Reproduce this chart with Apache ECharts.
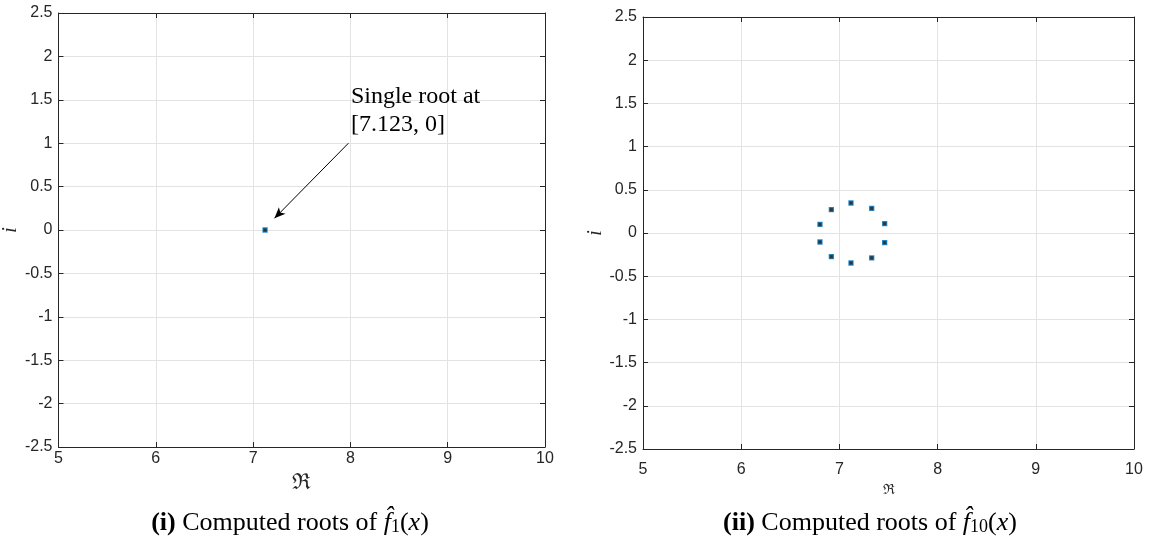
<!DOCTYPE html>
<html>
<head>
<meta charset="utf-8">
<script src="https://cdn.jsdelivr.net/npm/echarts@6/dist/echarts.min.js"></script>
<style>
  html, body { margin: 0; padding: 0; background: #fff; }
  #chart { width: 1156px; height: 537px; }
</style>
</head>
<body>
<div id="chart"></div>
<script>
// axis ranges / ticks
const xRange = [5, 10];
const yRange = [-2.5, 2.5];
const xStep = 1;
const yStep = 0.5;

// (i) roots of f1
const rootsRe1 = [7.123];
const rootsIm1 = [0];

// (ii) roots of f10
const rootsRe10 = [6.802, 6.918, 7.118, 7.329, 7.461, 7.461, 7.329, 7.118, 6.918, 6.802];
const rootsIm10 = [0.100, 0.270, 0.347, 0.285, 0.108, -0.112, -0.289, -0.347, -0.274, -0.104];

// annotation on panel (i)
const arrowFrom = [7.98, 1.0];
const arrowTo = [7.22, 0.135];
const notePos = [8, 1.373];
const noteText = 'Single root at\n[7.123, 0]';

const axisColor = '#262626';
const gridColor = '#e3e3e3';

function pairs(xs, ys) {
  return xs.map((x, i) => [x, ys[i]]);
}

function mainX(g, margin, nameSize, nameGap) {
  return {
    gridIndex: g, type: 'value', min: xRange[0], max: xRange[1], interval: xStep,
    position: 'bottom',
    name: 'ℜ', nameLocation: 'middle', nameGap: nameGap,
    nameTextStyle: { fontFamily: 'DejaVu Serif', fontSize: nameSize, color: axisColor },
    axisLine: { show: true, onZero: false, lineStyle: { color: axisColor, width: 1 } },
    axisTick: { show: true, inside: true, length: 5, lineStyle: { color: axisColor } },
    axisLabel: { color: axisColor, fontFamily: 'Liberation Sans', fontSize: 16, margin: margin },
    splitLine: { show: true, lineStyle: { color: gridColor, width: 1 } }
  };
}
function mainY(g, nameGap) {
  return {
    gridIndex: g, type: 'value', min: yRange[0], max: yRange[1], interval: yStep,
    position: 'left',
    name: 'i', nameLocation: 'middle', nameGap: nameGap, nameRotate: 90,
    nameTextStyle: { fontFamily: 'Liberation Serif', fontStyle: 'italic', fontSize: 20, color: axisColor },
    axisLine: { show: true, onZero: false, lineStyle: { color: axisColor, width: 1 } },
    axisTick: { show: true, inside: true, length: 5, lineStyle: { color: axisColor } },
    axisLabel: { color: axisColor, fontFamily: 'Liberation Sans', fontSize: 16, margin: 6 },
    splitLine: { show: true, lineStyle: { color: gridColor, width: 1 } }
  };
}
// box edges with inward ticks (top / right)
function boxX(g) {
  return {
    gridIndex: g, type: 'value', min: xRange[0], max: xRange[1], interval: xStep,
    position: 'top',
    axisLine: { show: true, onZero: false, lineStyle: { color: axisColor, width: 1 } },
    axisTick: { show: true, inside: true, length: 5, lineStyle: { color: axisColor } },
    axisLabel: { show: false }, splitLine: { show: false }
  };
}
function boxY(g) {
  return {
    gridIndex: g, type: 'value', min: yRange[0], max: yRange[1], interval: yStep,
    position: 'right',
    axisLine: { show: true, onZero: false, lineStyle: { color: axisColor, width: 1 } },
    axisTick: { show: true, inside: true, length: 5, lineStyle: { color: axisColor } },
    axisLabel: { show: false }, splitLine: { show: false }
  };
}

const markerStyle = { color: '#000000', borderColor: '#0072BD', borderWidth: 1.3 };

const captionRich = {
  b: { fontFamily: 'Liberation Serif', fontWeight: 'bold', fontSize: 26, color: '#000', lineHeight: 30, verticalAlign: 'bottom' },
  n: { fontFamily: 'Liberation Serif', fontSize: 26, color: '#000', lineHeight: 30, verticalAlign: 'bottom' },
  it: { fontFamily: 'Liberation Serif', fontStyle: 'italic', fontSize: 26, color: '#000', lineHeight: 30, verticalAlign: 'bottom' },
  sub: { fontFamily: 'Liberation Serif', fontSize: 18, color: '#000', lineHeight: 12, verticalAlign: 'bottom' }
};

const chart = echarts.init(document.getElementById('chart'));
const option = {
  animation: false,
  backgroundColor: '#fff',
  grid: [
    { left: 53, top: 13, width: 492, height: 434 },
    { left: 643, top: 17, width: 491, height: 432 }
  ],
  xAxis: [mainX(0, 4, 22, 25), boxX(0), mainX(1, 13, 14, 18), boxX(1)],
  yAxis: [mainY(0, 34), boxY(0), mainY(1, 33), boxY(1)],
  series: [
    {
      type: 'scatter', xAxisIndex: 0, yAxisIndex: 0,
      symbol: 'rect', symbolSize: 4, itemStyle: markerStyle,
      data: pairs(rootsRe1, rootsIm1),
      markLine: {
        silent: true, animation: false,
        symbol: ['none', 'arrow'], symbolSize: [7, 11],
        lineStyle: { color: '#000', width: 1, type: 'solid' },
        label: { show: false },
        data: [[{ coord: arrowFrom }, { coord: arrowTo }]]
      },
      markPoint: {
        silent: true, animation: false,
        symbol: 'circle', symbolSize: 1, itemStyle: { color: 'rgba(0,0,0,0)' },
        label: {
          show: true, position: 'right', distance: 0, formatter: noteText,
          fontFamily: 'Liberation Serif', fontSize: 24, lineHeight: 28, color: '#000', align: 'left'
        },
        data: [{ coord: notePos }]
      }
    },
    {
      type: 'scatter', xAxisIndex: 2, yAxisIndex: 2,
      symbol: 'rect', symbolSize: 4, itemStyle: markerStyle,
      data: pairs(rootsRe10, rootsIm10)
    }
  ],
  graphic: [
    {
      type: 'text', x: 290, y: 521,
      style: {
        text: '{b|(i)}{n| Computed roots of }{it|f\u0302}{sub|1}{n|(}{it|x}{n|)}',
        rich: captionRich, align: 'center', verticalAlign: 'middle'
      }
    },
    {
      type: 'text', x: 870, y: 521,
      style: {
        text: '{b|(ii)}{n| Computed roots of }{it|f\u0302}{sub|10}{n|(}{it|x}{n|)}',
        rich: captionRich, align: 'center', verticalAlign: 'middle'
      }
    }
  ]
};
chart.setOption(option);
</script>
</body>
</html>
